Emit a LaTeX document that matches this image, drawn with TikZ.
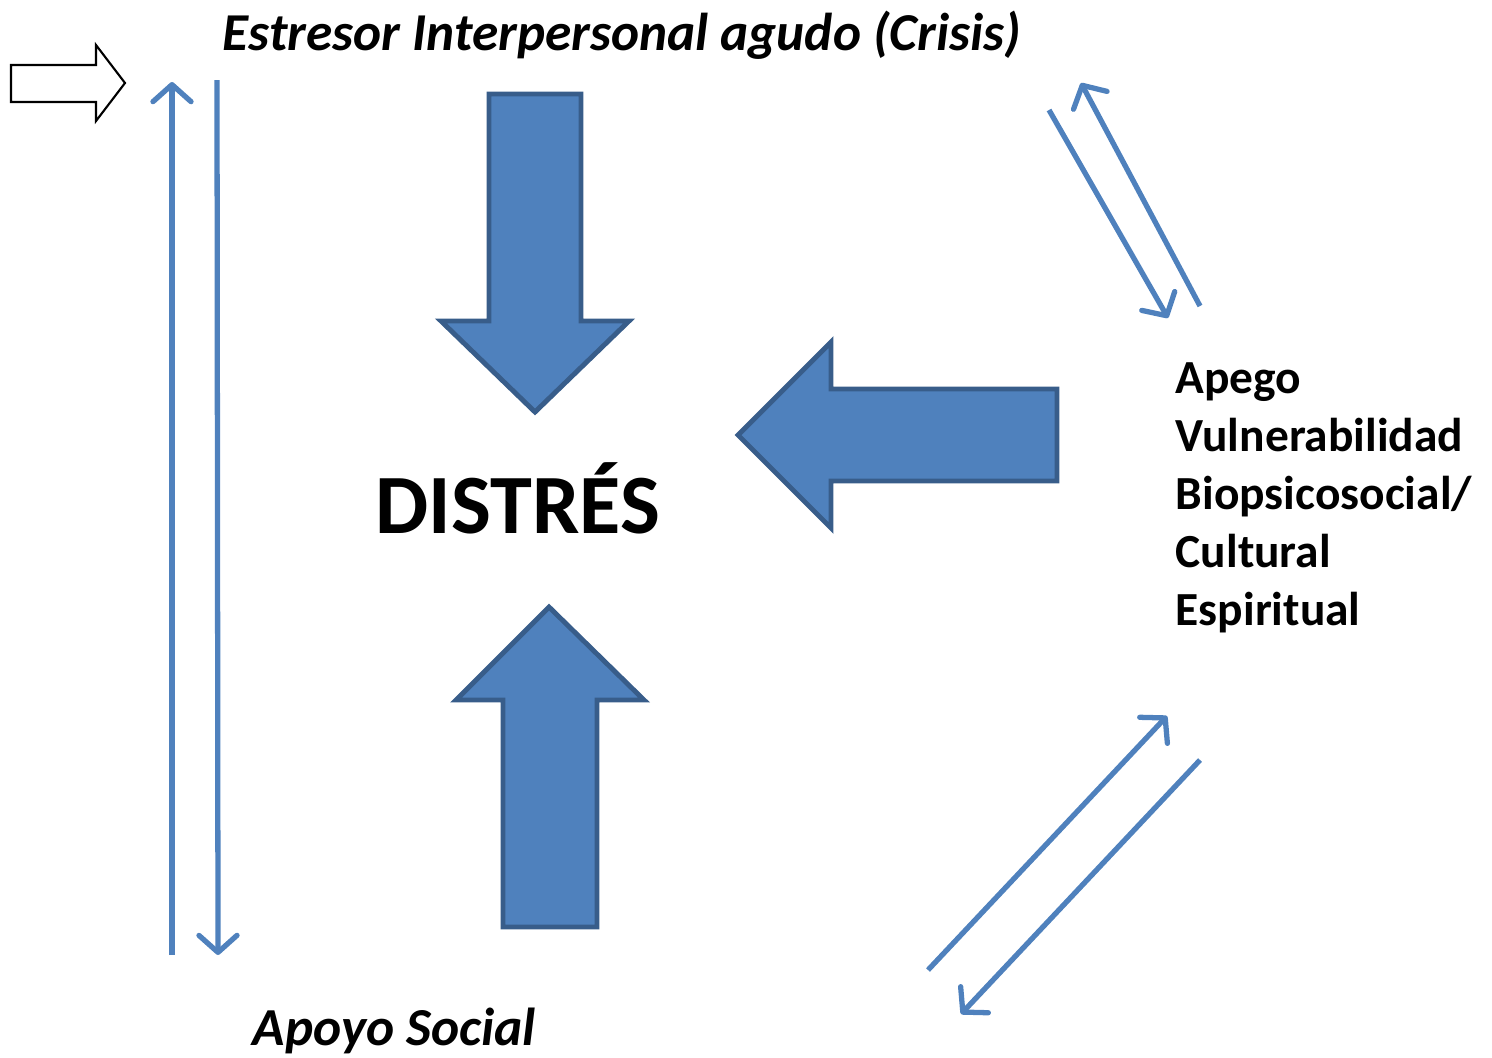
\documentclass[tikz,border=0pt]{standalone}
\usepackage{fontspec}
\setmainfont{Carlito}
\usepackage{xcolor}
\usetikzlibrary{arrows.meta}
\definecolor{offblue}{HTML}{4F81BD}
\definecolor{darkblue}{HTML}{385D8A}
\tikzstyle{bigarrow} = [draw=darkblue, 
line width=1.4pt, 
fill=offblue, 
line join=miter]
\tikzstyle{hollow} = [draw=black, 
line width=0.6pt, 
fill=white]
\tikzstyle{bluestroke} = [draw=offblue, 
line width=1.5pt]
\tikzstyle{link} = [bluestroke, -{Straight Barb[length=1.7mm, width=3.8mm, round, line width=1.5pt]}]
\tikzstyle{txt} = [font=\bfseries, inner sep=0pt, anchor=base west]

\begin{document}
\begin{tikzpicture}[x=0.01cm, y=-0.01cm]
    \useasboundingbox (0,0) rectangle (1492,1057);

    % texts
    \node (crisis) [txt, font=\bfseries\itshape\fontsize{15.15}{18}\selectfont] at (222,50) {Estresor Interpersonal agudo (Crisis)};
    \node (distres) [txt, font=\bfseries\fontsize{24}{28}\selectfont] at (375,533) {DISTRÉS};
    \node (apoyo) [txt, font=\bfseries\itshape\fontsize{15.2}{18}\selectfont] at (252,1045) {Apoyo Social};
    \node (apego) [txt, anchor=north west, align=left, font=\bfseries\fontsize{13.5}{16.5}\selectfont] at (1175,362)
        {Apego\\Vulnerabilidad\\Biopsicosocial/\\Cultural\\Espiritual};

    % big arrows
    \draw [bigarrow] (489,94) -- (581,94) -- (581,321) -- (629,321) -- (535,412)
        -- (441,321) -- (489,321) -- cycle;
    \draw [bigarrow] (1057,389) -- (1057,481) -- (831,481) -- (831,528) -- (738,435)
        -- (831,342) -- (831,389) -- cycle;
    \draw [bigarrow] (503,927) -- (597,927) -- (597,700) -- (644,700) -- (549,607)
        -- (456,700) -- (503,700) -- cycle;

    % white arrow
    \draw [hollow] (11,65) -- (96,65) -- (96,45) -- (125,83) -- (96,121) -- (96,102)
        -- (11,102) -- cycle;

    % thin arrows
    \coordinate (l1a) at (172,955);
    \coordinate (l1b) at (172,82);
    \coordinate (l2a) at (217,80);
    \coordinate (l2b) at (218,955);
    \coordinate (t1a) at (1049,110);
    \coordinate (t1b) at (1168,318);
    \coordinate (t2a) at (1200,306);
    \coordinate (t2b) at (1081,83);
    \coordinate (b1a) at (928,970);
    \coordinate (b1b) at (1167,716);
    \coordinate (b2a) at (1200,760);
    \coordinate (b2b) at (961,1014);

    \draw [link] (l1a) -- (l1b);
    \draw [link] (l2a) -- (l2b);
    \draw [link] (t1a) -- (t1b);
    \draw [link] (t2a) -- (t2b);
    \draw [link] (b1a) -- (b1b);
    \draw [link] (b2a) -- (b2b);

\end{tikzpicture}
\end{document}
